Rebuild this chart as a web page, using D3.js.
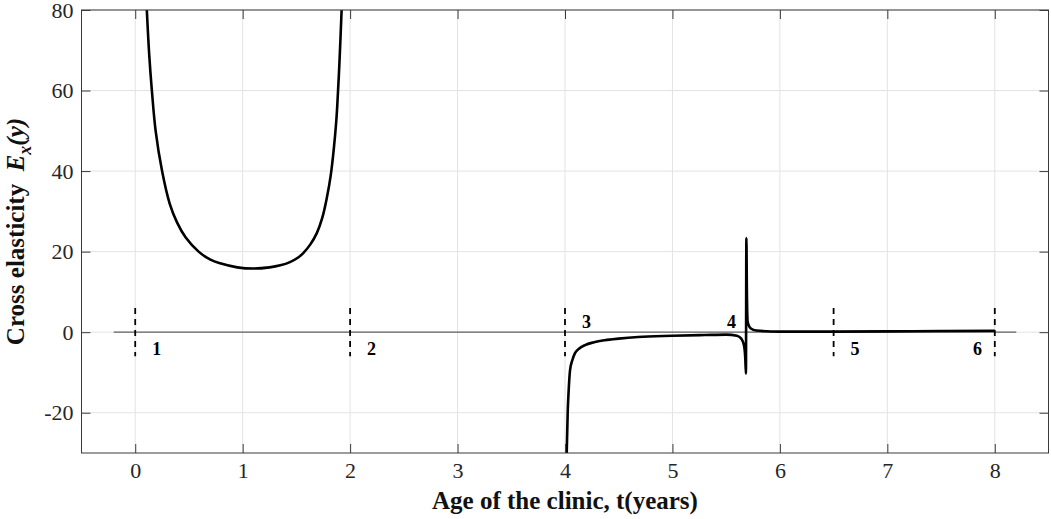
<!DOCTYPE html>
<html>
<head>
<meta charset="utf-8">
<script src="https://cdn.jsdelivr.net/npm/d3@7"></script>
<style>
  html, body { margin: 0; padding: 0; background: #fff; }
  svg { display: block; }
  text { font-family: "Liberation Serif", "Times New Roman", serif; }
</style>
</head>
<body>
<svg id="chart" width="1051" height="519"></svg>
<script>
// ---- data ----
const xTicks = [0, 1, 2, 3, 4, 5, 6, 7, 8];
const yTicks = [-20, 0, 20, 40, 60, 80];

// branch 1 (between t = 0 and t = 2)
const seg1T = [0.108, 0.13, 0.155, 0.19, 0.25, 0.32, 0.39, 0.47, 0.59, 0.70, 0.79, 0.95, 1.10, 1.25, 1.35, 1.44, 1.52, 1.566, 1.63, 1.69, 1.74, 1.783, 1.82, 1.85, 1.87, 1.88, 1.90, 1.921];
const seg1E = [80, 69, 60, 50, 40, 32.0, 27.2, 23.5, 20.0, 18.0, 17.1, 16.1, 15.8, 16.1, 16.6, 17.4, 18.6, 19.7, 21.8, 24.6, 28.3, 33.3, 39, 46, 52, 56, 66.5, 80];

// branch 2 (from t = 4 to t = 8)
const seg2T = [4.016, 4.025, 4.035, 4.047, 4.07, 4.093, 4.13, 4.186, 4.27, 4.37, 4.5, 4.68, 5.0, 5.3, 5.5, 5.6, 5.64, 5.665, 5.678, 5.684, 5.688, 5.693, 5.70, 5.73, 5.78, 6.0, 6.5, 7.0, 7.5, 8.0];
const seg2E = [-30, -20, -14, -9.4, -6.8, -5.2, -4.1, -3.2, -2.5, -2.0, -1.6, -1.2, -0.9, -0.7, -0.6, -0.9, -1.6, -3.2, -6.5, -10.3, 23.4, 10, 2.6, 0.9, 0.4, 0.15, 0.15, 0.2, 0.28, 0.35];

// zero reference line
const zeroLineT = [-0.2, 8.2];

// stage boundaries (dashed) and stage labels
const boundaryT = [0, 2, 4, 6.5, 8];
const boundaryHalf = 6;
const stageLabels = ["1", "2", "3", "4", "5", "6"];
const stageLabelT = [0.2, 2.2, 4.2, 5.55, 6.7, 7.84];
const stageLabelE = [-4.2, -4.2, 2.5, 2.5, -4.2, -4.2];

// ---- drawing ----
const FONT = '"Liberation Serif", "Times New Roman", serif';
const svg = d3.select("#chart");
const m = { left: 81.5, right: 1048.5, top: 10, bottom: 453 };
const x = d3.scaleLinear().domain([-0.5, 8.5]).range([m.left, m.right]);
const y = d3.scaleLinear().domain([-30, 80]).range([m.bottom, m.top]);

const axisColor = "#3a3a3a";
const gridColor = "#e3e3e3";

svg.append("defs").append("clipPath").attr("id", "clip")
  .append("rect").attr("x", m.left).attr("y", m.top)
  .attr("width", m.right - m.left).attr("height", m.bottom - m.top);

// grid
const grid = svg.append("g");
grid.selectAll(".gx").data(xTicks).join("line")
  .attr("x1", d => x(d)).attr("x2", d => x(d))
  .attr("y1", m.top).attr("y2", m.bottom)
  .attr("stroke", gridColor).attr("stroke-width", 1);
grid.selectAll(".gy").data(yTicks).join("line")
  .attr("x1", m.left).attr("x2", m.right)
  .attr("y1", d => y(d)).attr("y2", d => y(d))
  .attr("stroke", gridColor).attr("stroke-width", 1);

const plot = svg.append("g").attr("clip-path", "url(#clip)");

// zero line
plot.append("line")
  .attr("x1", x(zeroLineT[0])).attr("x2", x(zeroLineT[1]))
  .attr("y1", y(0)).attr("y2", y(0))
  .attr("stroke", "#606060").attr("stroke-width", 1.3);

// boundaries
plot.selectAll(".bd").data(boundaryT).join("line")
  .attr("x1", d => x(d)).attr("x2", d => x(d))
  .attr("y1", y(boundaryHalf)).attr("y2", y(-boundaryHalf))
  .attr("stroke", "#000").attr("stroke-width", 1.8)
  .attr("stroke-dasharray", "6,5");

// curves
const seg1 = seg1T.map((t, i) => [t, seg1E[i]]);
const seg2 = seg2T.map((t, i) => [t, seg2E[i]]);
const line1 = d3.line().x(d => x(d[0])).y(d => y(d[1])).curve(d3.curveCatmullRom.alpha(0.5));
const line2 = d3.line().x(d => x(d[0])).y(d => y(d[1])).curve(d3.curveMonotoneX);
[[seg1, line1], [seg2, line2]].forEach(([s, ln]) => {
  plot.append("path").attr("d", ln(s))
    .attr("fill", "none").attr("stroke", "#000").attr("stroke-width", 2.6)
    .attr("stroke-linejoin", "round");
});

// stage labels
svg.selectAll(".sl").data(stageLabels).join("text")
  .attr("x", (d, i) => x(stageLabelT[i]))
  .attr("y", (d, i) => y(stageLabelE[i]))
  .attr("text-anchor", "middle").attr("dominant-baseline", "central")
  .attr("font-family", FONT)
  .attr("font-weight", "bold").attr("font-size", 18)
  .text(d => d);

// axes box
svg.append("rect").attr("x", m.left).attr("y", m.top)
  .attr("width", m.right - m.left).attr("height", m.bottom - m.top)
  .attr("fill", "none").attr("stroke", axisColor).attr("stroke-width", 1);

const tl = 9;
const fmt = d => String(d);
const xAxisB = d3.axisBottom(x).tickValues(xTicks).tickSize(-tl).tickPadding(9).tickFormat(fmt);
const gx = svg.append("g").attr("transform", `translate(0,${m.bottom})`).call(xAxisB);
const xAxisT = d3.axisTop(x).tickValues(xTicks).tickSize(-tl).tickFormat("");
const gxt = svg.append("g").attr("transform", `translate(0,${m.top})`).call(xAxisT);
const yAxisL = d3.axisLeft(y).tickValues(yTicks).tickSize(-tl).tickPadding(8).tickFormat(fmt);
const gy = svg.append("g").attr("transform", `translate(${m.left},0)`).call(yAxisL);
const yAxisR = d3.axisRight(y).tickValues(yTicks).tickSize(-tl).tickFormat("");
const gyr = svg.append("g").attr("transform", `translate(${m.right},0)`).call(yAxisR);

[gx, gxt, gy, gyr].forEach(g => {
  g.attr("font-family", FONT).attr("font-size", 22);
  g.select(".domain").remove();
  g.selectAll(".tick line").attr("stroke", axisColor).attr("stroke-width", 1);
  g.selectAll(".tick text").attr("fill", "#262626")
    .attr("font-family", FONT).attr("font-size", 22);
});

// axis titles
svg.append("text")
  .attr("x", (m.left + m.right) / 2).attr("y", 509)
  .attr("text-anchor", "middle")
  .attr("font-family", FONT)
  .attr("font-weight", "bold").attr("font-size", 25)
  .attr("fill", "#111")
  .text("Age of the clinic, t(years)");

const yt = svg.append("text")
  .attr("transform", `translate(24,${(m.top + m.bottom) / 2}) rotate(-90)`)
  .attr("text-anchor", "middle")
  .attr("font-family", FONT)
  .attr("font-weight", "bold").attr("font-size", 25)
  .attr("fill", "#111");
yt.append("tspan").text("Cross elasticity\u00a0\u00a0");
yt.append("tspan").attr("font-style", "italic").text("E");
yt.append("tspan").attr("font-style", "italic").attr("font-size", 18).attr("dy", 7).text("x");
yt.append("tspan").attr("font-style", "italic").attr("dy", -7).text("(y)");
</script>
</body>
</html>
